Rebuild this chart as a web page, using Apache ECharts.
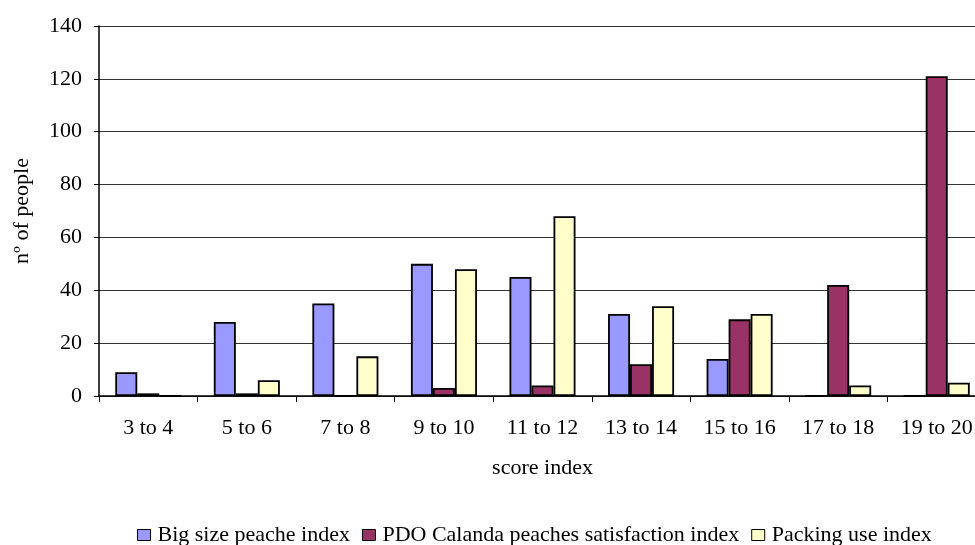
<!DOCTYPE html>
<html>
<head>
<meta charset="utf-8">
<script src="https://cdn.jsdelivr.net/npm/echarts@6/dist/echarts.min.js"></script>
<style>html,body{margin:0;padding:0;background:#fff}#c{width:975px;height:545px}</style>
</head>
<body>
<div id="c"></div>
<script>
var categories = ['3 to 4','5 to 6','7 to 8','9 to 10','11 to 12','13 to 14','15 to 16','17 to 18','19 to 20'];
var bigSize = [9, 28, 35, 50, 45, 31, 14, 0, 0];
var pdoSatisfaction = [1, 1, 0, 3, 4, 12, 29, 42, 121];
var packingUse = [0, 6, 15, 48, 68, 34, 31, 4, 5];
var yTicks = {min: 0, max: 140, interval: 20};

var font = 'Liberation Serif';
var chart = echarts.init(document.getElementById('c'));
var barStyle = function (c) { return {color: c, borderColor: '#000', borderWidth: 1.8}; };
chart.setOption({
  animation: false,
  textStyle: {fontFamily: font},
  grid: {left: 99, top: 26, bottom: 149, width: 887, outerBoundsMode: 'none', containLabel: false},
  legend: {
    top: 524, left: 137, padding: 0,
    itemWidth: 13, itemHeight: 11, itemGap: 12,
    icon: 'rect',
    itemStyle: {borderColor: '#000', borderWidth: 1},
    textStyle: {fontFamily: font, fontSize: 22, color: '#000', padding: [0,0,0,2]},
    data: ['Big size peache index', 'PDO Calanda peaches satisfaction index', 'Packing use index']
  },
  xAxis: {
    type: 'category', data: categories,
    name: 'score index', nameLocation: 'middle', nameGap: 61,
    nameTextStyle: {fontFamily: font, fontSize: 22, color: '#000'},
    axisLine: {lineStyle: {color: '#000', width: 1.5}},
    axisTick: {show: true, length: 6, lineStyle: {color: '#000'}},
    axisLabel: {fontFamily: font, fontSize: 22, color: '#000', margin: 21}
  },
  yAxis: {
    type: 'value', min: yTicks.min, max: yTicks.max, interval: yTicks.interval,
    name: 'nº of people', nameLocation: 'middle', nameGap: 66, nameRotate: 90,
    nameTextStyle: {fontFamily: font, fontSize: 22, color: '#000'},
    axisLine: {show: true, lineStyle: {color: '#000', width: 1.5}},
    axisTick: {show: true, length: 5, lineStyle: {color: '#000'}},
    axisLabel: {fontFamily: font, fontSize: 22, color: '#000', margin: 17},
    splitLine: {lineStyle: {color: '#333', width: 1.2}}
  },
  series: [
    {name: 'Big size peache index', type: 'bar', data: bigSize, barGap: '0%', barCategoryGap: '33%', itemStyle: barStyle('#9999FF')},
    {name: 'PDO Calanda peaches satisfaction index', type: 'bar', data: pdoSatisfaction, itemStyle: barStyle('#993366')},
    {name: 'Packing use index', type: 'bar', data: packingUse, itemStyle: barStyle('#FFFFCC')}
  ]
});
</script>
</body>
</html>
